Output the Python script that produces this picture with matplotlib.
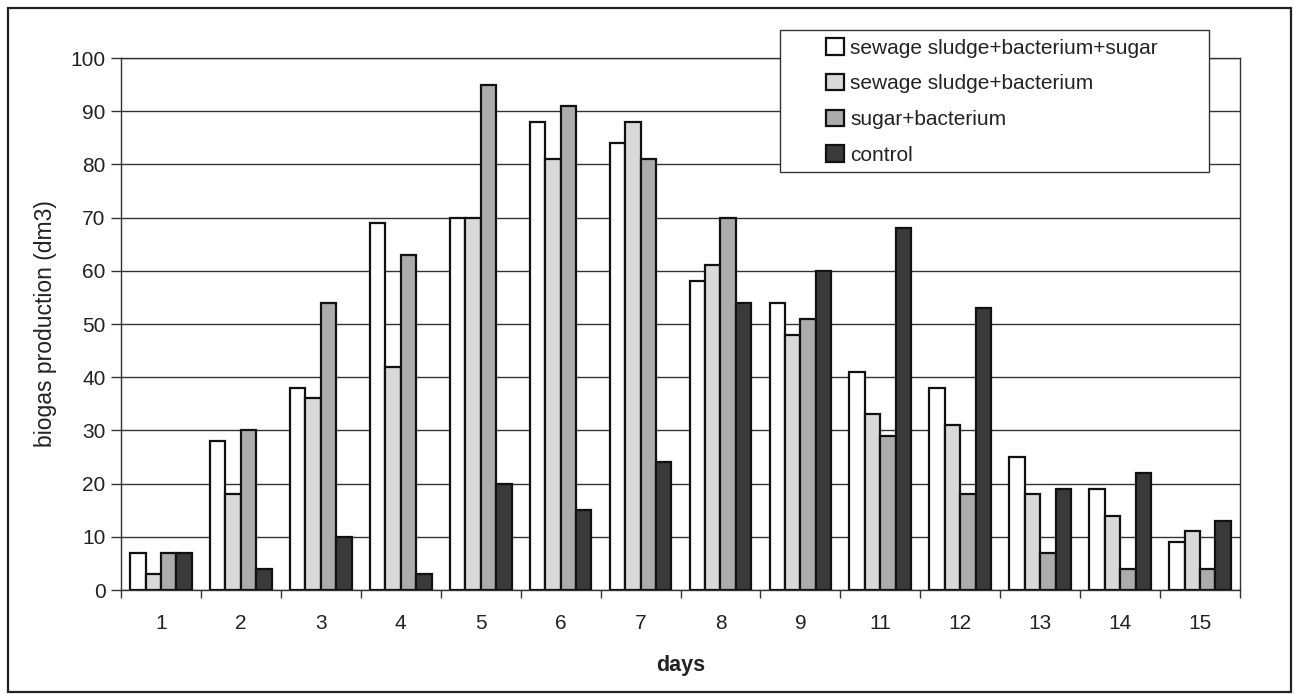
import matplotlib
matplotlib.use("Agg")
import matplotlib.pyplot as plt
import numpy as np
from matplotlib.patches import Rectangle

days = ["1", "2", "3", "4", "5", "6", "7", "8", "9", "11", "12", "13", "14", "15"]
sludge_bact_sugar = [7, 28, 38, 69, 70, 88, 84, 58, 54, 41, 38, 25, 19, 9]
sludge_bact = [3, 18, 36, 42, 70, 81, 88, 61, 48, 33, 31, 18, 14, 11]
sugar_bact = [7, 30, 54, 63, 95, 91, 81, 70, 51, 29, 18, 7, 4, 4]
control = [7, 4, 10, 3, 20, 15, 24, 54, 60, 68, 53, 19, 22, 13]
series_names = ["sewage sludge+bacterium+sugar", "sewage sludge+bacterium",
                "sugar+bacterium", "control"]
yticks = list(range(0, 101, 10))

plt.rcParams['font.family'] = ['Liberation Sans', 'DejaVu Sans']

W, H = 1295, 694
fig = plt.figure(figsize=(W / 100, H / 100), dpi=100)
ax = fig.add_axes([121 / W, 1 - 590 / H, (1240 - 121) / W, (590 - 58) / H])

colors = ["#ffffff", "#d9d9d9", "#acacac", "#3a3a3a"]
data = [sludge_bact_sugar, sludge_bact, sugar_bact, control]
x = np.arange(len(days))
bw = 0.193
handles = []
for i, (vals, c, name) in enumerate(zip(data, colors, series_names)):
    b = ax.bar(x + (i - 1.5) * bw, vals, width=bw, color=c, edgecolor="#111111",
               linewidth=1.6, label=name, zorder=3)
    handles.append(b)

ax.set_xlim(-0.5, len(days) - 0.5)
ax.set_ylim(0, 100)
ax.set_yticks(yticks)
ax.yaxis.grid(True, color="#333333", linewidth=1.0, zorder=0)
ax.set_axisbelow(True)
ax.tick_params(axis='y', labelsize=15, length=7, width=1, color="#333333", pad=4, labelcolor="#222222")
ax.set_xticks(x)
ax.set_xticklabels(days)
ax.set_xticks(np.arange(-0.5, len(days), 1.0), minor=True)
ax.tick_params(axis='x', which='major', length=0, labelsize=15, pad=17, labelcolor="#222222")
ax.tick_params(axis='x', which='minor', length=6, width=1, color="#333333")
for s in ax.spines.values():
    s.set_color("#333333")
    s.set_linewidth(1.0)

ax.set_ylabel("biogas production (dm3)", fontsize=16.5, color="#222222", labelpad=10)
ax.set_xlabel("days", fontsize=15.5, fontweight="bold", color="#222222", labelpad=16)

# legend box
fig.patches.append(Rectangle((780 / W, 1 - 172 / H), 429 / W, 142 / H,
                             transform=fig.transFigure, facecolor="white",
                             edgecolor="#333333", linewidth=1.0, zorder=4))
leg = fig.legend(handles=handles, labels=series_names, loc="upper left",
                 bbox_to_anchor=(826 / W, 1 - 38 / H), bbox_transform=fig.transFigure,
                 frameon=False, fontsize=15, borderpad=0, borderaxespad=0,
                 handlelength=0.85, handleheight=0.85, handletextpad=0.3,
                 labelspacing=0.78)
leg.set_zorder(5)
for t in leg.get_texts():
    t.set_color("#222222")

# outer chart border
fig.patches.append(Rectangle((8 / W, 2 / H), 1283 / W, 684 / H,
                             transform=fig.transFigure, fill=False,
                             edgecolor="#222222", linewidth=1.6, zorder=6))

fig.savefig("out.png", dpi=100)
